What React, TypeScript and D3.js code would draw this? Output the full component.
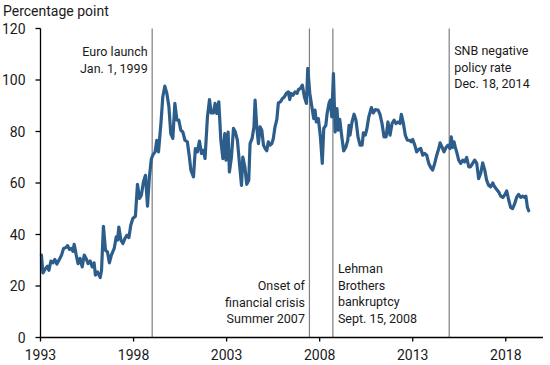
import React from 'react';
import * as d3 from 'd3';

// decimal year, spread in percentage points
const spreadSeries: [number, number][] = [
  [1993.05, 32.0], [1993.13, 25.1], [1993.27, 26.8], [1993.38, 27.7], [1993.45, 26.1],
  [1993.56, 29.7], [1993.67, 29.0], [1993.77, 30.3], [1993.88, 28.5], [1993.99, 30.0],
  [1994.13, 32.0], [1994.24, 34.6], [1994.38, 35.0], [1994.45, 35.7], [1994.56, 34.2],
  [1994.66, 34.6], [1994.74, 33.5], [1994.81, 36.2], [1994.92, 32.0], [1995.02, 28.7],
  [1995.13, 30.7], [1995.24, 27.4], [1995.35, 32.0], [1995.45, 30.7], [1995.56, 28.7],
  [1995.67, 29.7], [1995.78, 27.4], [1995.88, 29.0], [1995.95, 24.2], [1996.06, 25.5],
  [1996.21, 23.3], [1996.28, 26.1], [1996.38, 43.2], [1996.49, 33.9], [1996.6, 33.2],
  [1996.7, 29.0], [1996.81, 32.0], [1996.96, 34.6], [1997.07, 39.1], [1997.14, 37.8],
  [1997.21, 42.9], [1997.32, 37.8], [1997.43, 36.5], [1997.53, 38.4], [1997.64, 39.7],
  [1997.75, 38.8], [1997.85, 43.6], [1997.96, 46.2], [1998.1, 47.1], [1998.21, 59.5],
  [1998.32, 54.0], [1998.42, 55.3], [1998.53, 60.4], [1998.64, 63.0], [1998.75, 51.0],
  [1998.85, 62.4], [1998.96, 69.5], [1999.05, 71.0], [1999.16, 72.1], [1999.25, 76.6],
  [1999.34, 72.1], [1999.47, 83.1], [1999.57, 93.4], [1999.68, 97.6], [1999.79, 94.8],
  [1999.9, 89.6], [2000.0, 79.2], [2000.11, 77.3], [2000.22, 90.9], [2000.33, 84.4],
  [2000.43, 84.4], [2000.54, 80.5], [2000.65, 79.8], [2000.76, 76.6], [2000.89, 76.0],
  [2001.0, 70.1], [2001.08, 65.0], [2001.22, 62.4], [2001.32, 73.4], [2001.43, 72.1],
  [2001.54, 76.3], [2001.65, 71.5], [2001.75, 72.7], [2001.84, 69.5], [2001.97, 85.7],
  [2002.08, 92.4], [2002.17, 87.2], [2002.29, 87.2], [2002.38, 90.9], [2002.47, 87.0],
  [2002.58, 91.5], [2002.69, 76.6], [2002.8, 69.5], [2002.9, 79.2], [2002.97, 68.9],
  [2003.08, 79.8], [2003.15, 64.3], [2003.26, 70.1], [2003.37, 81.2], [2003.47, 79.8],
  [2003.58, 76.6], [2003.69, 67.6], [2003.8, 59.1], [2003.87, 70.1], [2003.98, 66.3],
  [2004.08, 59.5], [2004.19, 61.1], [2004.26, 75.3], [2004.37, 77.3], [2004.47, 81.8],
  [2004.53, 92.2], [2004.62, 81.8], [2004.71, 75.3], [2004.8, 81.8], [2004.89, 80.5],
  [2004.98, 74.7], [2005.07, 73.4], [2005.16, 72.5], [2005.24, 76.0], [2005.34, 74.7],
  [2005.43, 75.3], [2005.51, 77.3], [2005.6, 81.8], [2005.7, 84.7], [2005.78, 91.1],
  [2005.89, 91.5], [2006.0, 92.8], [2006.1, 93.4], [2006.21, 94.8], [2006.32, 95.4],
  [2006.39, 92.4], [2006.46, 94.8], [2006.57, 94.1], [2006.68, 95.4], [2006.79, 94.8],
  [2006.86, 96.3], [2006.96, 96.7], [2007.07, 98.0], [2007.18, 93.4], [2007.29, 90.9],
  [2007.36, 104.5], [2007.47, 94.8], [2007.58, 89.6], [2007.68, 85.0], [2007.75, 88.3],
  [2007.82, 83.7], [2007.93, 85.0], [2008.04, 77.9], [2008.14, 67.6], [2008.22, 81.2],
  [2008.33, 82.4], [2008.4, 87.0], [2008.5, 90.9], [2008.57, 92.2], [2008.65, 85.7],
  [2008.74, 102.5], [2008.83, 79.8], [2008.93, 88.9], [2009.0, 80.5], [2009.08, 84.7],
  [2009.19, 77.9], [2009.29, 72.5], [2009.4, 73.8], [2009.51, 76.6], [2009.58, 82.4],
  [2009.63, 78.6], [2009.74, 83.7], [2009.85, 86.7], [2009.95, 84.4], [2010.06, 77.9],
  [2010.17, 74.7], [2010.28, 74.7], [2010.35, 79.5], [2010.45, 78.6], [2010.53, 80.8],
  [2010.64, 85.7], [2010.78, 89.3], [2010.88, 87.2], [2010.99, 88.5], [2011.14, 88.3],
  [2011.24, 86.7], [2011.35, 83.1], [2011.46, 77.9], [2011.57, 77.9], [2011.67, 83.7],
  [2011.78, 78.6], [2011.89, 83.1], [2012.0, 84.4], [2012.1, 83.1], [2012.21, 83.7],
  [2012.32, 83.1], [2012.39, 86.7], [2012.5, 83.1], [2012.6, 78.6], [2012.71, 76.6],
  [2012.82, 76.6], [2012.92, 76.0], [2013.0, 76.9], [2013.11, 74.7], [2013.21, 72.1],
  [2013.32, 73.0], [2013.43, 73.4], [2013.54, 70.8], [2013.64, 71.5], [2013.75, 70.8],
  [2013.86, 67.6], [2013.97, 66.0], [2014.07, 65.0], [2014.18, 67.6], [2014.29, 70.8],
  [2014.4, 73.4], [2014.47, 75.6], [2014.57, 74.0], [2014.68, 72.1], [2014.79, 73.8],
  [2014.9, 74.7], [2015.0, 73.4], [2015.07, 77.9], [2015.15, 73.8], [2015.22, 76.0],
  [2015.29, 73.8], [2015.36, 72.1], [2015.47, 68.9], [2015.58, 67.6], [2015.69, 68.9],
  [2015.79, 68.2], [2015.9, 69.9], [2016.01, 66.3], [2016.11, 66.3], [2016.22, 67.6],
  [2016.33, 68.9], [2016.44, 67.6], [2016.54, 61.7], [2016.65, 63.7], [2016.76, 67.8],
  [2016.87, 65.0], [2016.97, 61.1], [2017.08, 59.1], [2017.19, 58.5], [2017.3, 60.0],
  [2017.4, 58.5], [2017.51, 57.5], [2017.62, 56.5], [2017.73, 54.9], [2017.84, 54.4],
  [2017.94, 55.3], [2018.05, 56.9], [2018.16, 53.3], [2018.26, 50.5], [2018.37, 50.1],
  [2018.48, 52.0], [2018.58, 54.4], [2018.69, 55.6], [2018.8, 54.4], [2018.91, 54.9],
  [2019.01, 54.4], [2019.08, 54.9], [2019.16, 50.7], [2019.23, 49.2],
];

const xTicks = [1993, 1998, 2003, 2008, 2013, 2018];
const yTicks = [0, 20, 40, 60, 80, 100, 120];

const events = [
  { date: 1999.0, lines: ['Euro launch', 'Jan. 1, 1999'] },
  { date: 2007.45, lines: ['Onset of', 'financial crisis', 'Summer 2007'] },
  { date: 2008.71, lines: ['Lehman', 'Brothers', 'bankruptcy', 'Sept. 15, 2008'] },
  { date: 2014.96, lines: ['SNB negative', 'policy rate', 'Dec. 18, 2014'] },
];

const W = 550;
const H = 365;
const left = 40.5;
const right = 543;
const top = 28.5;
const bottom = 337.5;
const font = 'Roboto, "Noto Sans", sans-serif';

// label placement for each event: which side, first baseline
const labelPos = [
  { side: 'left', y: 56 },
  { side: 'left', y: 290 },
  { side: 'right', y: 273 },
  { side: 'right', y: 55 },
];

export default function App() {
  const x = d3.scaleLinear().domain([1993, 2020]).range([left, right]);
  const y = d3.scaleLinear().domain([0, 120]).range([bottom, top]);

  const line = d3.line<[number, number]>()
    .x(d => x(d[0]))
    .y(d => y(d[1]));

  const lh = 16.5;

  return (
    <div style={{ position: 'absolute', left: 0, top: 0 }}>
      <svg width={W} height={H} style={{ display: 'block', background: '#fff' }}
        fontFamily={font}>
        <text x={3} y={16} fontSize={14} fill="#1a1a1a">Percentage point</text>

        {events.map((ev, i) => {
          const ex = x(ev.date);
          const p = labelPos[i];
          const isLeft = p.side === 'left';
          return (
            <g key={i}>
              <line x1={ex} x2={ex} y1={top} y2={bottom} stroke="#7f7f7f" strokeWidth={1.2} />
              {ev.lines.map((t, j) => (
                <text key={j} x={isLeft ? ex - 4.5 : ex + 5} y={p.y + j * lh}
                  textAnchor={isLeft ? 'end' : 'start'} fontSize={12.5} fill="#1a1a1a">{t}</text>
              ))}
            </g>
          );
        })}

        <path d={line(spreadSeries) || ''} fill="none" stroke="#2d5d8b"
          strokeWidth={3.2} strokeLinejoin="round" strokeLinecap="round" />

        {/* y axis */}
        <line x1={left} x2={left} y1={top} y2={bottom} stroke="#000" strokeWidth={1.3} />
        {yTicks.map(t => (
          <g key={t}>
            <line x1={left - 5} x2={left} y1={y(t)} y2={y(t)} stroke="#000" strokeWidth={1.3} />
            <text x={25.5} y={y(t) + 5} textAnchor="end" fontSize={14} fill="#1a1a1a">{t}</text>
          </g>
        ))}

        {/* x axis */}
        <line x1={left} x2={right} y1={bottom} y2={bottom} stroke="#000" strokeWidth={1.3} />
        {xTicks.map(t => (
          <g key={t}>
            <line x1={x(t)} x2={x(t)} y1={bottom} y2={bottom + 4} stroke="#000" strokeWidth={1.3} />
            <text x={x(t)} y={360} textAnchor="middle" fontSize={14} fill="#1a1a1a">{t}</text>
          </g>
        ))}
      </svg>
    </div>
  );
}
